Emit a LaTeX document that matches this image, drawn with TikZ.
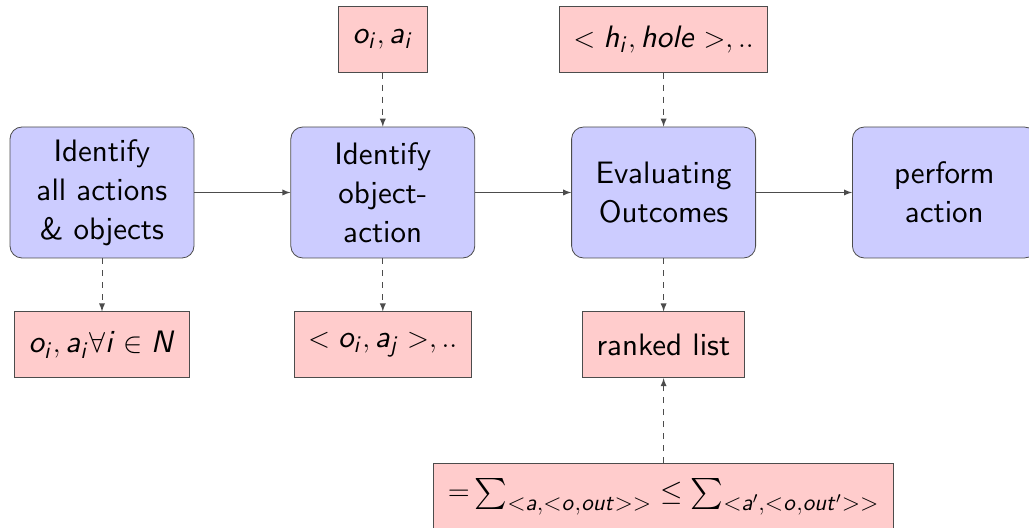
\documentclass[tikz,border=0pt]{standalone}
\usepackage{amsmath}
\usepackage{amssymb}
\usepackage{tikz}
\usepackage{xcolor}
\usetikzlibrary{positioning}

% computer modern sans, one design size scaled to any size
\DeclareFontFamily{OT1}{boxsf}{}
\DeclareFontShape{OT1}{boxsf}{m}{n}{<->cmss10}{}
\DeclareFontShape{OT1}{boxsf}{m}{sl}{<->cmssi10}{}
\newcommand{\boxfont}{\fontencoding{OT1}\fontfamily{boxsf}\fontsize{15.5}{19.5}\selectfont}
\DeclareMathSizes{15.5}{15.5}{11.5}{8.5}

% sans slanted letters for the math labels
\DeclareSymbolFont{sfletters}{OT1}{boxsf}{m}{sl}
\DeclareMathSymbol{a}{\mathalpha}{sfletters}{`a}
\DeclareMathSymbol{e}{\mathalpha}{sfletters}{`e}
\DeclareMathSymbol{h}{\mathalpha}{sfletters}{`h}
\DeclareMathSymbol{i}{\mathalpha}{sfletters}{`i}
\DeclareMathSymbol{j}{\mathalpha}{sfletters}{`j}
\DeclareMathSymbol{l}{\mathalpha}{sfletters}{`l}
\DeclareMathSymbol{o}{\mathalpha}{sfletters}{`o}
\DeclareMathSymbol{t}{\mathalpha}{sfletters}{`t}
\DeclareMathSymbol{u}{\mathalpha}{sfletters}{`u}
\DeclareMathSymbol{N}{\mathalpha}{sfletters}{`N}

\tikzset{
	stage/.style={draw=black!70,fill=blue!20,rounded corners=6pt,align=center,
		minimum width=92pt,minimum height=65.5pt,inner sep=2pt,font=\boxfont},
	info/.style={draw=black!70,fill=red!20,minimum height=33pt,inner xsep=7pt,
		font=\boxfont},
	flow/.style={draw=black!70,->,>=latex},
	feed/.style={flow,dashed}
}

\begin{document}
\begin{tikzpicture}[x=0.5pt,y=-0.5pt]
\useasboundingbox (0,0) rectangle (1029,528);

\node[stage] (ident) at (102,192.5) {Identify\\all actions\\\& objects};
\node[stage,right=48pt of ident] (pair) {Identify\\object-\\action};
\node[stage,right=48pt of pair] (eval) {Evaluating\\Outcomes};
\node[stage,right=48pt of eval] (act) {perform\\action};

\node[info,above=27pt of pair] (pairin) {$o_i, a_i$};
\node[info,above=27pt of eval] (evalin) {$< h_i, hole >, ..$};

\node[info,below=26.5pt of ident] (identout) {$o_i, a_i \forall i \in N$};
\node[info,below=26.5pt of pair] (pairout) {$< o_i, a_j >, ..$};
\node[info,below=26.5pt of eval] (rank) {ranked list};
\node[info,below=42.5pt of rank] (score) {${=}\sum_{<a,<o,out>>} \leq \sum_{<a',<o,out'>>}$};

\draw[flow] (ident) -- (pair);
\draw[flow] (pair) -- (eval);
\draw[flow] (eval) -- (act);

\draw[feed] (pairin) -- (pair);
\draw[feed] (evalin) -- (eval);
\draw[feed] (ident) -- (identout);
\draw[feed] (pair) -- (pairout);
\draw[feed] (eval) -- (rank);
\draw[feed] (score) -- (rank);

\end{tikzpicture}
\end{document}
